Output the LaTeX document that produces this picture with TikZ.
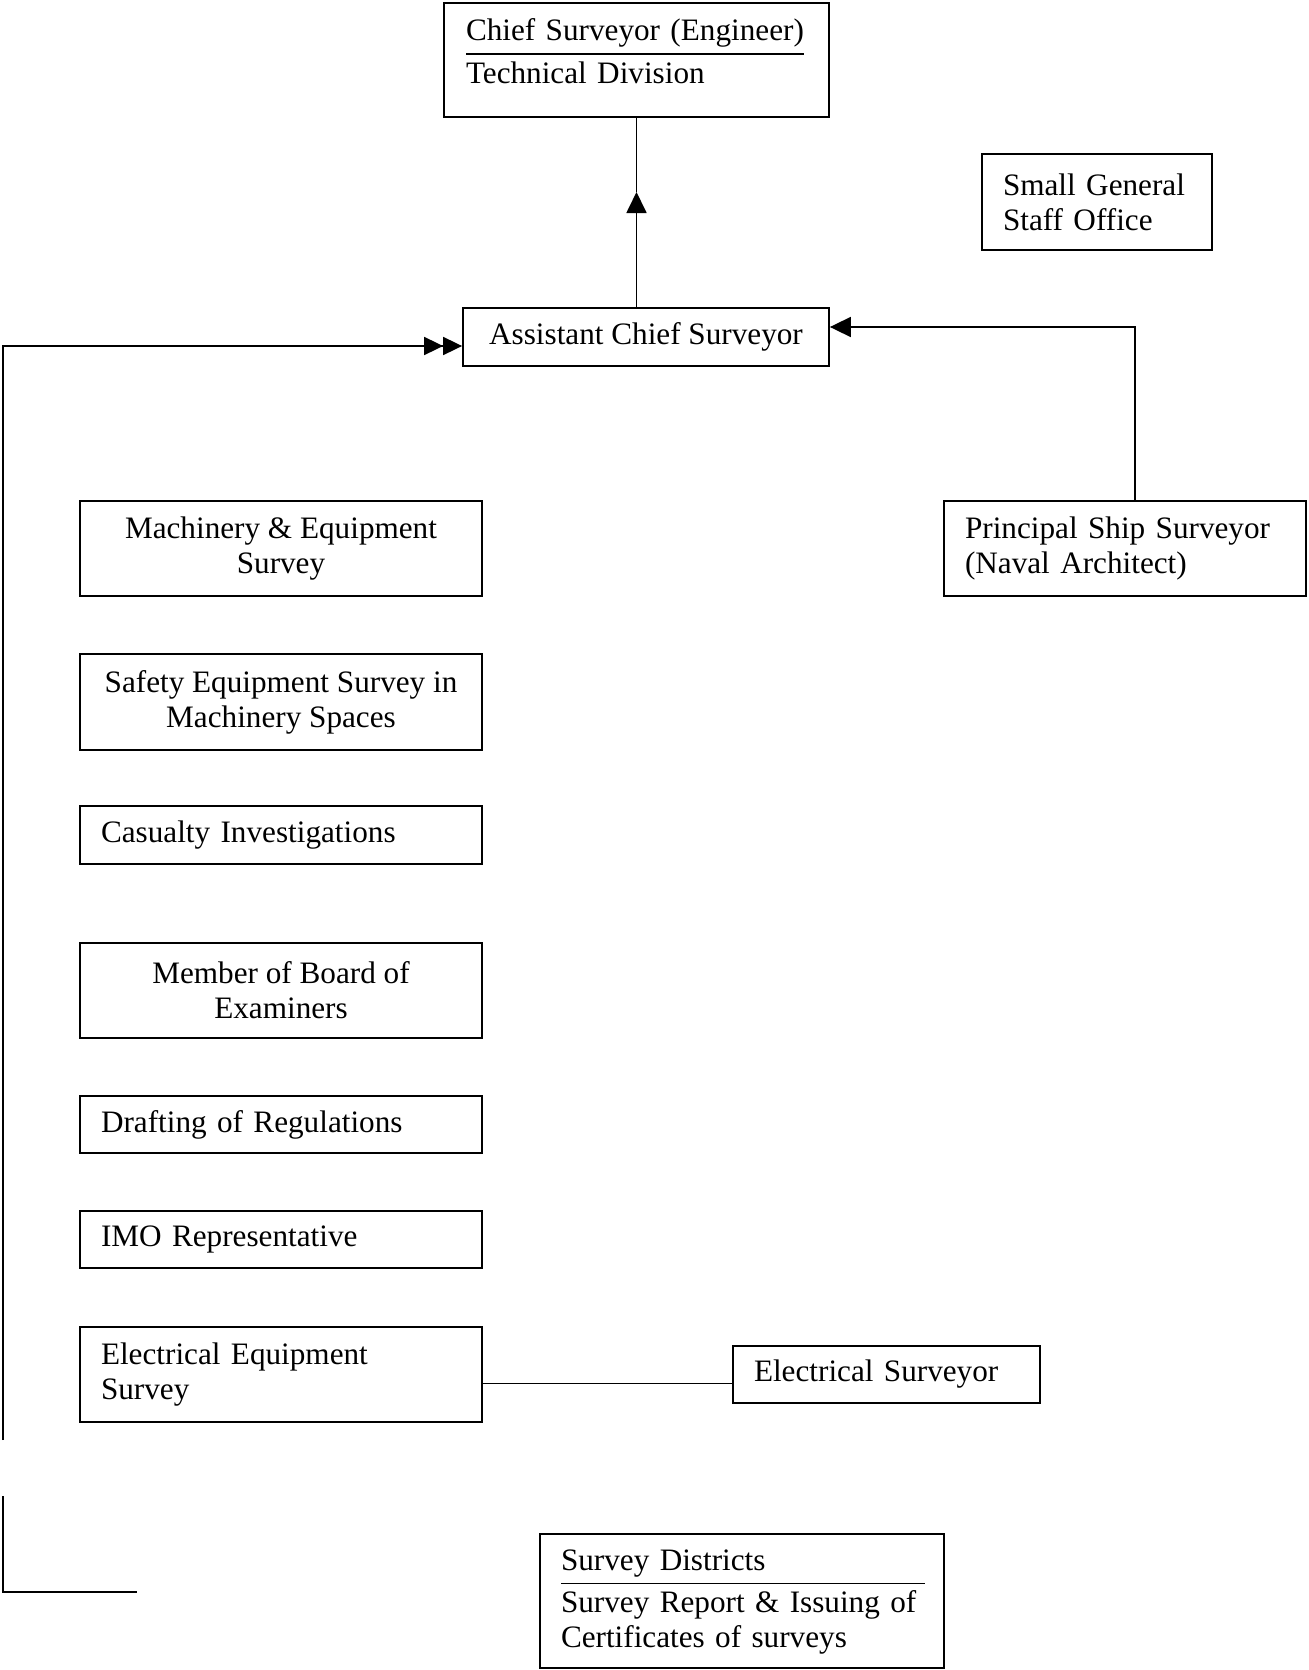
\documentclass[tikz,border=0pt]{standalone}
\usepackage{fontspec}
\setmainfont{Liberation Serif}
\usetikzlibrary{arrows.meta}
\begin{document}
\begin{tikzpicture}[x=0.5pt,y=-0.5pt,
  every node/.style={font=\fontsize{15.6}{17.5}\selectfont},
  box/.style={draw, line width=0.9pt, rectangle, inner ysep=0pt, inner xsep=10.5pt, anchor=center},
  lbox/.style={box, align=left},
  cbox/.style={box, align=center},
  conn/.style={line width=0.9pt},
  tip/.style={-{Triangle[length=10.5pt,width=10pt]}}
]
\useasboundingbox (0,0) rectangle (1308,1670);
\setlength{\arrayrulewidth}{0.9pt}

% boxes
\node[lbox, minimum width=192.5pt, minimum height=57pt, text width=170.5pt, inner xsep=11pt] (chief) at (636.5,60)
  {\renewcommand\arraystretch{1.2}\begin{tabular}{@{}l@{}}\rule{0pt}{16pt}Chief Surveyor (Engineer)\\\hline Technical Division\rule[-14pt]{0pt}{0pt}\end{tabular}};

\node[lbox, minimum width=115pt, minimum height=48pt, text width=94pt] (small) at (1097,202)
  {Small General\\Staff Office};

\node[cbox, minimum width=183pt, minimum height=29pt] (asst) at (646,337)
  {Assistant Chief Surveyor};

\node[lbox, minimum width=181pt, minimum height=47.5pt, text width=160pt] (principal) at (1125,548.5)
  {Principal Ship Surveyor\\(Naval Architect)};

\node[cbox, minimum width=201pt, minimum height=47.5pt] (mach) at (281,548.5)
  {Machinery \& Equipment\\Survey};

\node[cbox, minimum width=201pt, minimum height=48pt] (safety) at (281,702)
  {Safety Equipment Survey in\\Machinery Spaces};

\node[lbox, minimum width=201pt, minimum height=29pt, text width=180pt] (casualty) at (281,835)
  {Casualty Investigations};

\node[cbox, minimum width=201pt, minimum height=47.5pt] (board) at (281,990.5)
  {Member of Board of\\Examiners};

\node[lbox, minimum width=201pt, minimum height=28.5pt, text width=180pt] (drafting) at (281,1124.5)
  {Drafting of Regulations};

\node[lbox, minimum width=201pt, minimum height=28.5pt, text width=180pt] (imo) at (281,1239.5)
  {IMO Representative};

\node[lbox, minimum width=201pt, minimum height=47.5pt, text width=180pt] (elec) at (281,1374.5)
  {Electrical Equipment\\Survey};

\node[lbox, minimum width=153.5pt, minimum height=28.5pt, text width=132.5pt] (elecsurv) at (886.5,1374.5)
  {Electrical Surveyor};

\node[lbox, minimum width=202pt, minimum height=67pt, text width=181pt, inner xsep=10.5pt] (districts) at (742,1601)
  {\renewcommand\arraystretch{1.15}\begin{tabular}{@{}p{182pt}@{}}Survey Districts\\\hline Survey Report \& Issuing of\newline Certificates of surveys\end{tabular}};

% connectors
\coordinate (amid) at (636.5,192);
\draw[conn, tip] (asst.north -| amid) -- (amid);
\draw[conn] (amid) -- (chief.south -| amid);

\coordinate (lbot) at (3,1440);
\coordinate (ltop) at (3,346);
\draw[conn, -{Triangle[length=9.5pt,width=9pt]Triangle[length=9.5pt,width=9pt]}] (lbot) -- (ltop) -- (ltop -| asst.west);

\coordinate (ltwotop) at (3,1496);
\coordinate (ltwobot) at (3,1592);
\coordinate (ltwoend) at (137,1592);
\draw[conn] (ltwotop) -- (ltwobot) -- (ltwoend);

\coordinate (rcorner) at (1135,327);
\draw[conn, tip] (principal.north -| rcorner) -- (rcorner) -- (rcorner -| asst.east);

\coordinate (ec) at (0,1383.5);
\draw[conn] (elec.east |- ec) -- (elecsurv.west |- ec);
\end{tikzpicture}
\end{document}
